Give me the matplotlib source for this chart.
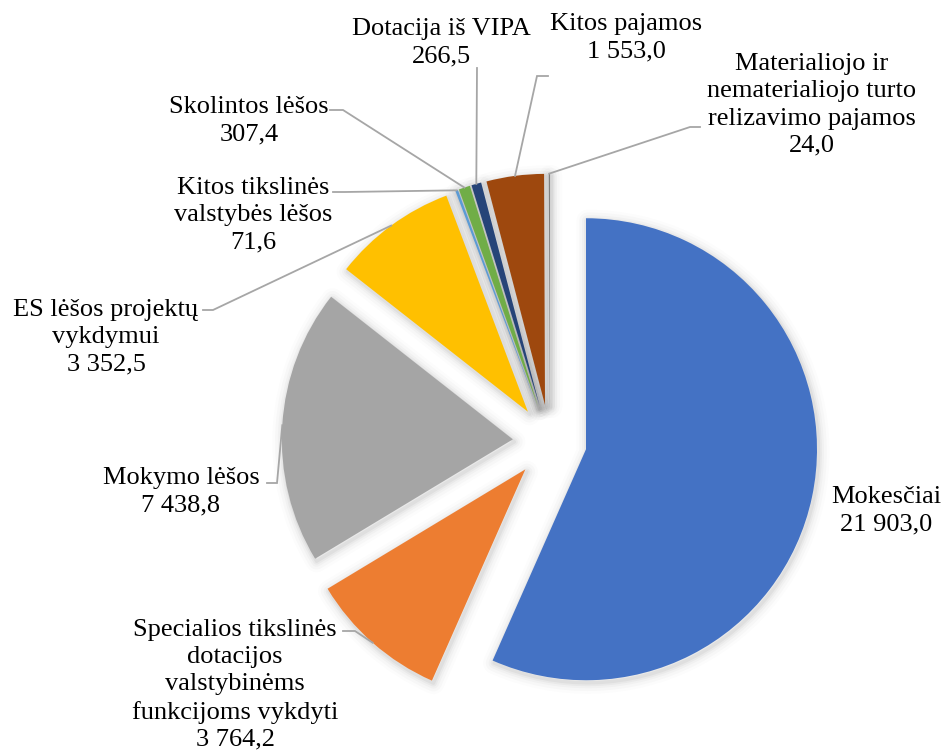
import numpy as np
import matplotlib
matplotlib.use("Agg")
import matplotlib.pyplot as plt

W, H = 947, 756

# ---- data ----
categories = [
    "Mokesčiai",
    "Specialios tikslinės\ndotacijos\nvalstybinėms\nfunkcijoms vykdyti",
    "Mokymo lėšos",
    "ES lėšos projektų\nvykdymui",
    "Kitos tikslinės\nvalstybės lėšos",
    "Skolintos lėšos",
    "Dotacija iš VIPA",
    "Kitos pajamos",
    "Materialiojo ir\nnematerialiojo turto\nrelizavimo pajamos",
]
values = [21903.0, 3764.2, 7438.8, 3352.5, 71.6, 307.4, 266.5, 1553.0, 24.0]
value_labels = ["21 903,0", "3 764,2", "7 438,8", "3 352,5", "71,6", "307,4",
                "266,5", "1 553,0", "24,0"]
colors = ["#4472C4", "#ED7D31", "#A5A5A5", "#FFC000", "#5B9BD5", "#70AD47",
          "#264478", "#9E480E", "#636363"]

# ---- layout (pixel coordinates, y measured from top) ----
center_px = (549.8, 441.6)
radius = 231
explode_px = 37

# label block centers
label_pos = [(886, 511), (235, 685), (181, 492), (106, 337), (253, 215),
             (249, 121), (441, 43), (626, 38), (812, 105)]
# leader lines: (start, elbow) ; end is computed on the arc
leaders = [None,
           ((343, 631), (355, 631)),
           ((267, 483), (277, 483)),
           ((203, 310), (213, 310)),
           ((333, 192), (345, 192)),
           ((330, 110), (343, 110)),
           ((477, 68), (477, 68)),
           ((548, 76), (537, 76)),
           ((700, 127), (690, 127))]

def py(y):
    return H - y

fig = plt.figure(figsize=(W / 100, H / 100), dpi=100)
ax = fig.add_axes([0, 0, 1, 1])
ax.set_xlim(0, W)
ax.set_ylim(0, H)
ax.set_aspect("equal")
ax.axis("off")

cx, cy = center_px[0], py(center_px[1])
explode = [explode_px] * len(values)

# soft shadow / glow
for lw, a in [(16, 0.012), (12, 0.018), (8, 0.025), (5, 0.03), (2.5, 0.04)]:
    ax.pie(values, startangle=90, counterclock=False, radius=radius,
           center=(cx + 1.5, cy - 2.5), explode=explode,
           colors=["none"] * len(values), frame=True,
           wedgeprops=dict(edgecolor=(0, 0, 0, a), linewidth=lw,
                           joinstyle="round"))

wedges, _ = ax.pie(values, startangle=90, counterclock=False, radius=radius,
                   center=(cx, cy), explode=explode, colors=colors, frame=True,
                   wedgeprops=dict(edgecolor="none", linewidth=0))

ax.set_xlim(0, W)
ax.set_ylim(0, H)
ax.axis("off")

fontfam = ["Liberation Serif", "DejaVu Serif"]
for i, w in enumerate(wedges):
    theta = np.deg2rad((w.theta1 + w.theta2) / 2)
    ex = w.center[0] + radius * np.cos(theta)
    ey = w.center[1] + radius * np.sin(theta)
    lx, ly = label_pos[i]
    ax.text(lx, py(ly), categories[i] + "\n" + value_labels[i],
            ha="center", va="center", multialignment="center",
            fontsize=19, family=fontfam, color="black", linespacing=1.3)
    if leaders[i] is not None:
        (sx, sy), (bx, by) = leaders[i]
        ax.plot([sx, bx, ex], [py(sy), py(by), ey], color="#A6A6A6",
                lw=1.3, solid_joinstyle="miter", zorder=5)

fig.savefig("out.png", dpi=100)
